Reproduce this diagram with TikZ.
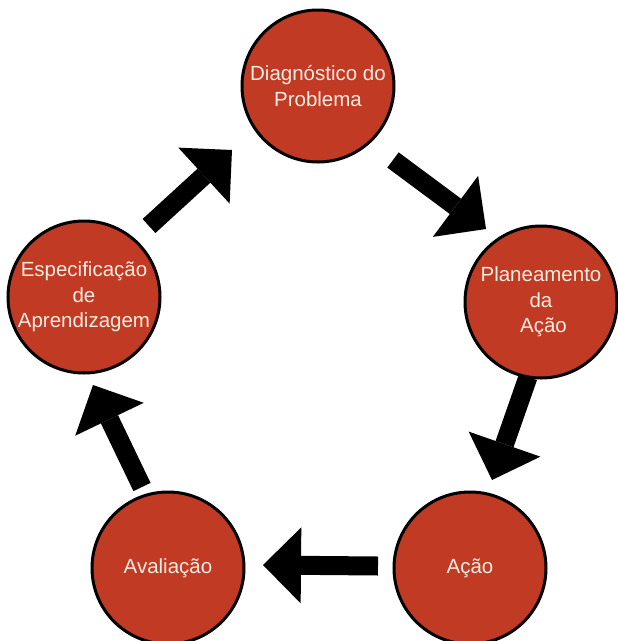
\documentclass[tikz,border=0pt]{standalone}
\usepackage{fontspec}
\setmainfont{Liberation Sans}
\usetikzlibrary{arrows.meta}
\definecolor{stagefill}{RGB}{192,58,36}
\definecolor{stagetext}{RGB}{252,236,226}
\begin{document}
\begin{tikzpicture}[x=1pt,y=-1pt,
  stage/.style={circle, draw=black, line width=3pt, fill=stagefill,
    minimum size=152pt, inner sep=0pt,
    align=center, text=stagetext, font=\fontsize{20.5}{25.5}\selectfont},
  blockarrow/.style={draw=black, line width=19pt,
    -{Triangle[length=38pt,width=76pt,line width=0pt]}}]
\useasboundingbox[fill=white] (0,0) rectangle (618,641);

% cycle stages
\node[stage] (diag)  at (318,86)  {Diagnóstico do\\Problema};
\node[stage] (plan)  at (541,302) {Planeamento\\da\hspace*{5pt}\\\hspace*{5pt}Ação};
\node[stage] (acao)  at (470,568) {Ação};
\node[stage] (aval)  at (168,568) {Avaliação};
\node[stage] (espec) at (84,297)  {Especificação\\de\\Aprendizagem};

% arrow ends between the stages
\coordinate (a1s) at (393,160); \coordinate (a1e) at (486,229);
\coordinate (a2s) at (528,377); \coordinate (a2e) at (492,480);
\coordinate (a3s) at (378,566); \coordinate (a3e) at (263,565);
\coordinate (a4s) at (142,487); \coordinate (a4e) at (93,385);
\coordinate (a5s) at (149,226); \coordinate (a5e) at (232,150);

\draw[blockarrow] (a1s) -- (a1e);
\draw[blockarrow] (a2s) -- (a2e);
\draw[blockarrow] (a3s) -- (a3e);
\draw[blockarrow] (a4s) -- (a4e);
\draw[blockarrow] (a5s) -- (a5e);
\end{tikzpicture}
\end{document}
